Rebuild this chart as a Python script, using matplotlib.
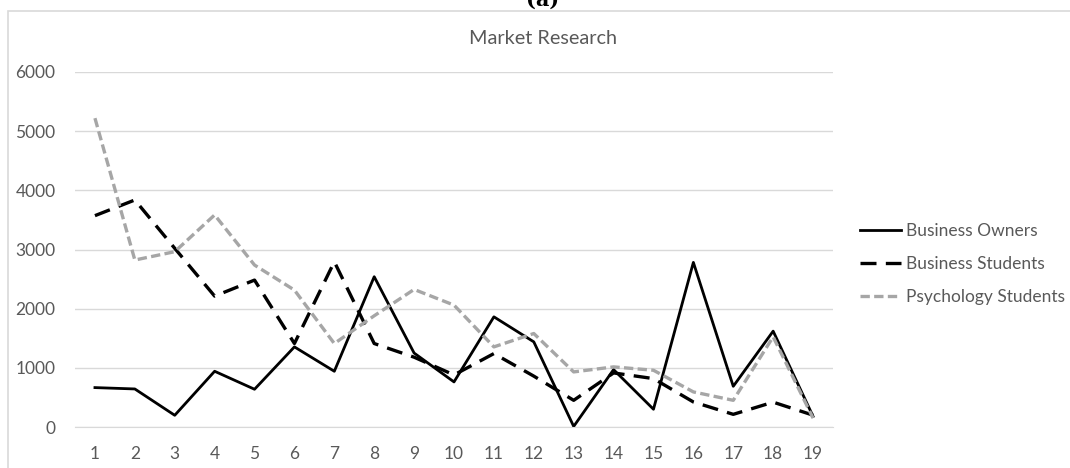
import numpy as np
import matplotlib.pyplot as plt
from matplotlib.patches import Rectangle

# Werte
runden = list(range(1, 20))
business_owners = [666, 643, 198, 942, 638, 1354, 942, 2540, 1250, 762,
                   1862, 1439, 10, 970, 300, 2782, 688, 1620, 180]
business_students = [3572, 3837, 3020, 2212, 2483, 1411, 2793, 1411, 1180, 880,
                     1241, 860, 451, 914, 818, 423, 214, 420, 200]
psychology_students = [5220, 2822, 2963, 3584, 2737, 2314, 1411, 1880, 2325, 2060,
                       1354, 1580, 931, 1016, 959, 593, 451, 1524, 150]
y_ticks = [0, 1000, 2000, 3000, 4000, 5000, 6000]

plt.rcParams['font.family'] = ['Lato', 'DejaVu Sans']
text_color = '#595959'
grid_color = '#d9d9d9'

fig = plt.figure(figsize=(10.7, 4.68), dpi=100)

# Rahmen des Diagramms (wie im Excel-Export)
fig.patches.append(Rectangle((8 / 1070, -0.1), 1.2, 1 - 11 / 468 + 0.1,
                             transform=fig.transFigure, fill=False,
                             edgecolor=grid_color, linewidth=1.2))

ax = fig.add_axes([75 / 1070, 41 / 468, 758 / 1070, 355 / 468])

ax.plot(runden, business_owners, color='black', lw=2.0, label='Business Owners')
ax.plot(runden, business_students, color='black', lw=2.4, dashes=(4.8, 2.8),
        label='Business Students')
ax.plot(runden, psychology_students, color='#a6a6a6', lw=2.4, dashes=(2.8, 1.3),
        label='Psychology Students')

ax.set_xlim(0.5, 19.5)
ax.set_ylim(0, 6000)
ax.set_xticks(runden)
ax.set_yticks(y_ticks)
ax.grid(axis='y', color=grid_color, lw=1)
ax.set_axisbelow(True)
for s in ['top', 'right', 'left']:
    ax.spines[s].set_visible(False)
ax.spines['bottom'].set_color(grid_color)
ax.tick_params(length=0, labelsize=12.5, colors=text_color, pad=14)
ax.tick_params(axis='x', pad=14)

fig.text(543 / 1070, 1 - 39 / 468, 'Market Research', ha='center', va='center',
         fontsize=14.3, color=text_color)
# "(a)" ist im Original oben abgeschnitten
fig.text(543 / 1070, 1 - 0 / 468, '(a)', ha='center', va='center',
         fontsize=15, fontweight='bold', family='DejaVu Serif')

leg = fig.legend(loc='upper left', bbox_to_anchor=(844 / 1070, 1 - 207 / 468),
                 frameon=False, fontsize=12.5, handlelength=2.4, handletextpad=0.3,
                 labelspacing=0.98, labelcolor=text_color)

plt.savefig('out.png', dpi=100)
plt.close(fig)
